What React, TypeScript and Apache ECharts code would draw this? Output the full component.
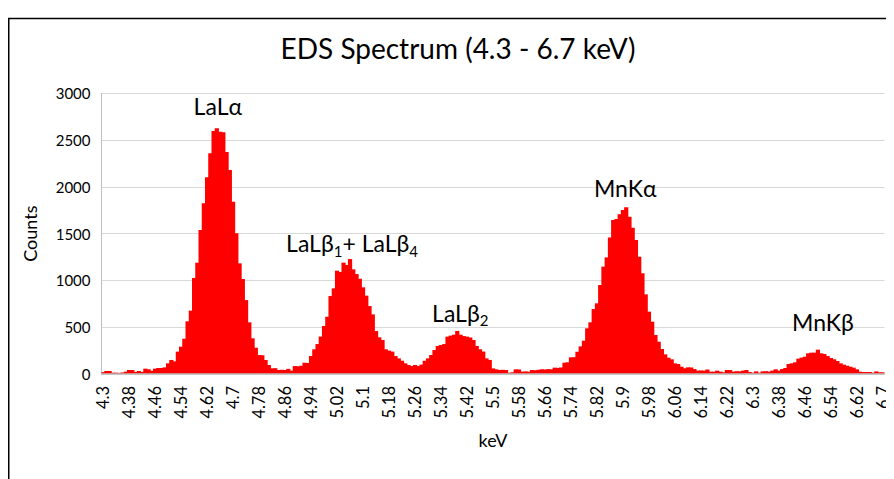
import React, { useEffect, useRef } from "react";
import * as echarts from "echarts";

// Energy axis: 4.30 .. 6.70 keV in 0.01 keV channels
const KEV_START = 4.3;
const KEV_STEP = 0.01;
const CHANNELS = 241;
const CATEGORIES: string[] = Array.from({ length: CHANNELS }, (_, i) =>
  String(Number((KEV_START + KEV_STEP * i).toFixed(2)))
);

// Counts per channel
const COUNTS: number[] = [
  20, 32, 32, 14, 14, 12, 16, 25, 43, 43,
  22, 32, 22, 57, 50, 35, 57, 64, 64, 71,
  114, 150, 135, 239, 292, 377, 563, 677, 1026, 1189,
  1538, 1823, 2101, 2358, 2596, 2625, 2589, 2582, 2372, 2179,
  1841, 1503, 1182, 1015, 790, 552, 381, 281, 203, 200,
  150, 96, 60, 62, 43, 45, 43, 55, 36, 85,
  82, 88, 120, 118, 192, 264, 320, 400, 513, 612,
  833, 915, 1104, 1090, 1190, 1165, 1228, 1118, 1068, 1018,
  926, 837, 726, 637, 459, 392, 363, 264, 250, 239,
  192, 167, 142, 114, 96, 85, 96, 85, 100, 142,
  167, 203, 256, 299, 310, 320, 399, 410, 420, 460,
  420, 405, 399, 390, 363, 300, 264, 240, 167, 150,
  60, 50, 43, 45, 43, 14, 18, 50, 48, 25,
  28, 25, 43, 40, 45, 50, 48, 52, 50, 68,
  65, 70, 121, 125, 178, 180, 238, 295, 356, 488,
  552, 694, 755, 951, 1147, 1246, 1457, 1645, 1656, 1706,
  1752, 1781, 1681, 1563, 1432, 1253, 1076, 851, 666, 559,
  417, 345, 267, 210, 174, 157, 114, 107, 78, 61,
  71, 70, 53, 36, 38, 36, 48, 25, 25, 36,
  25, 18, 43, 42, 25, 30, 28, 36, 43, 21,
  14, 28, 14, 28, 30, 26, 36, 50, 36, 53,
  64, 107, 114, 125, 164, 175, 185, 221, 228, 228,
  260, 221, 214, 192, 171, 157, 139, 114, 100, 89,
  78, 68, 50, 25, 21, 21, 21, 14, 28, 18,
  18,
];

// Peak annotations: channel index of the peak and label text (rich)
const PEAK_CHANNELS = [35, 76, 109, 161, 220];
const PEAK_LABELS = [
  "{m|LaLα}",
  "{m|LaLβ}{s|1}{m|+ LaLβ}{s|4}",
  "{m|LaLβ}{s|2}",
  "{m|MnKα}",
  "{m|MnKβ}",
];
const PEAK_OFFSETS: [number, number][] = [
  [1, -22],
  [2, -16],
  [3, -18],
  [-1, -19],
  [5, -28],
];

const FONT = "Lato";
const TEXT = "#000000";

export default function App() {
  const ref = useRef<HTMLDivElement>(null);

  useEffect(() => {
    if (!ref.current) return;
    document.documentElement.style.overflow = "hidden";
    const chart = echarts.init(ref.current, undefined, { renderer: "svg" });
    chart.setOption({
      animation: false,
      backgroundColor: "#ffffff",
      textStyle: { fontFamily: FONT },
      graphic: [
        {
          type: "rect",
          shape: { x: 0.75, y: 10.5, width: 2000, height: 2000 },
          style: { fill: "none", stroke: "#000000", lineWidth: 1.5 },
          silent: true,
        },
        {
          type: "text",
          x: 450,
          y: 40,
          style: {
            text: "EDS Spectrum (4.3 - 6.7 keV)",
            fontFamily: FONT,
            fontSize: 28,
            fill: TEXT,
            textAlign: "center",
            textVerticalAlign: "middle",
          },
        },
      ],
      grid: { left: 93.5, right: 9.5, top: 85.2, bottom: 105, containLabel: false },
      xAxis: {
        type: "category",
        data: CATEGORIES,
        boundaryGap: true,
        z: 3,
        name: "keV",
        nameLocation: "middle",
        nameGap: 57,
        nameTextStyle: { fontFamily: FONT, fontSize: 18, color: TEXT },
        axisLine: { show: true, lineStyle: { color: "#bfbfbf", width: 1.5 } },
        axisTick: { show: false },
        axisLabel: {
          interval: 7,
          rotate: 90,
          margin: 12,
          fontFamily: FONT,
          fontSize: 16.5,
          color: TEXT,
        },
        splitLine: { show: false },
      },
      yAxis: {
        type: "value",
        min: 0,
        max: 3000,
        interval: 500,
        name: "Counts",
        nameLocation: "middle",
        nameGap: 63,
        nameRotate: 90,
        nameTextStyle: { fontFamily: FONT, fontSize: 18, color: TEXT },
        axisLine: { show: true, lineStyle: { color: "#bfbfbf", width: 1 } },
        axisTick: { show: false },
        axisLabel: {
          margin: 11,
          fontFamily: FONT,
          fontSize: 15,
          color: TEXT,
          formatter: (v: number) => String(v),
        },
        splitLine: { show: true, lineStyle: { color: "#d9d9d9", width: 1 } },
      },
      series: [
        {
          type: "bar",
          data: COUNTS,
          barWidth: 4.2,
          itemStyle: { color: "#ff0000" },
          markPoint: {
            symbol: "circle",
            symbolSize: 1,
            itemStyle: { color: "rgba(0,0,0,0)" },
            data: PEAK_CHANNELS.map((ch, k) => ({
              coord: [CATEGORIES[ch], COUNTS[ch]],
              label: {
                show: true,
                position: "inside",
                offset: PEAK_OFFSETS[k],
                formatter: PEAK_LABELS[k],
                rich: {
                  m: { fontFamily: FONT, fontSize: 23, color: TEXT, lineHeight: 30 },
                  s: {
                    fontFamily: FONT,
                    fontSize: 15,
                    color: TEXT,
                    lineHeight: 30,
                    verticalAlign: "bottom",
                    padding: [12, 0, 0, 0],
                  },
                },
              },
            })),
          },
        },
      ],
    });
    return () => chart.dispose();
  }, []);

  return <div ref={ref} style={{ width: 886, height: 471 }} />;
}
